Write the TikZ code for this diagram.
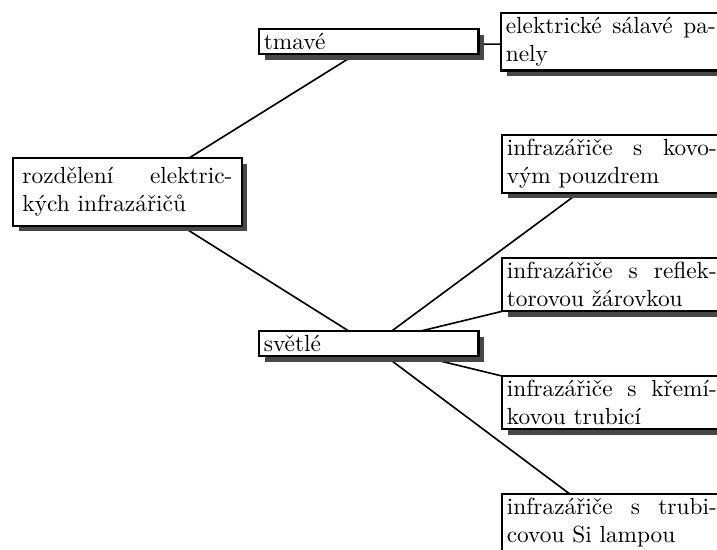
\documentclass[tikz,border=0pt]{standalone}
\usepackage{fontspec}
\usetikzlibrary{shadows,backgrounds}
\begin{document}
\begin{tikzpicture}[x=0.4286pt,y=-0.4286pt,
  box/.style={draw,line width=1pt,fill=white,text width=90pt,align=justify,
    inner xsep=2pt,inner ysep=1.8pt,anchor=north west,
    font=\fontsize{10}{12}\selectfont,
    drop shadow={shadow xshift=2.4pt,shadow yshift=-2.4pt,fill=black!72,opacity=1}},
  rootbox/.style={box,inner xsep=4pt,inner ysep=4pt},
  link/.style={line width=0.7pt}]
\path[use as bounding box,clip] (0,0) rectangle (717,550);

% root of the classification
\node[rootbox] (root) at (12,157) {rozdělení elektric-\linebreak kých infrazářičů};

% two main groups
\node[box] (tmave)  at (258,28)  {tmavé};
\node[box] (svetle) at (258,330) {světlé};

% dark emitters
\node[box] (panely) at (500,12) {elektrické sálavé pa-\linebreak nely};

% light emitters
\node[box] (kov)  at (501,134) {infrazářiče s kovo-\linebreak vým pouzdrem};
\node[box] (refl) at (501,257) {infrazářiče s reflek-\linebreak torovou žárovkou};
\node[box] (krem) at (501,375) {infrazářiče s křemí-\linebreak kovou trubicí};
\node[box] (trub) at (501,493) {infrazářiče s trubi-\linebreak covou Si lampou};

% connectors behind the boxes
\begin{pgfonlayer}{background}
  \draw[link] ([xshift=3pt]root.center) -- ([xshift=3pt]tmave.center);
  \draw[link] (root.center) -- (svetle.center);
  \draw[link] ([yshift=-1pt]tmave.center) -- ([yshift=-1pt]panely.center);
  \draw[link] ([xshift=2.5pt]svetle.center) -- ([xshift=2.5pt]kov.center);
  \draw[link] (svetle.center) -- (refl.center);
  \draw[link] (svetle.center) -- (krem.center);
  \draw[link] (svetle.center) -- ([xshift=-1.5pt]trub.center);
\end{pgfonlayer}
\end{tikzpicture}
\end{document}
